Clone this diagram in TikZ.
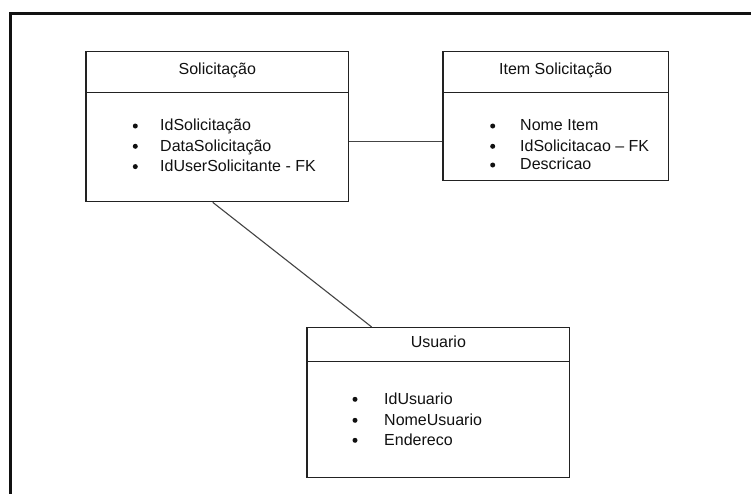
\documentclass[tikz,border=0pt]{standalone}
\usepackage{fontspec}
\setmainfont{Liberation Sans}
\definecolor{boxc}{HTML}{222222}
\definecolor{linec}{HTML}{444444}
\definecolor{framec}{HTML}{111111}
\definecolor{txt}{HTML}{111111}
\begin{document}
\begin{tikzpicture}[x=1pt,y=-1pt,
  entity/.style={draw=boxc,line width=1.3pt,inner sep=0pt,rectangle},
  divider/.style={draw=boxc,line width=1.3pt},
  conn/.style={draw=linec,line width=1.1pt},
  frame/.style={draw=framec,line width=2.8pt},
  title/.style={anchor=base,inner sep=0pt,font=\fontsize{16}{19}\selectfont,text=txt},
  item/.style={anchor=base west,inner sep=0pt,font=\fontsize{16}{19}\selectfont,text=txt},
  dot/.style={circle,fill=txt,inner sep=0pt,minimum size=5pt}]
\useasboundingbox (0,0) rectangle (751,493);
\fill[white] (0,0) rectangle (751,493);
% outer frame (left and top edges only)
\coordinate (fb) at (10.5,494);
\coordinate (fc) at (10.5,13.8);
\coordinate (fr) at (752,13.8);
\draw[frame] (fb) -- (fc) -- (fr);

% entity boxes
\node[entity,minimum width=262.7pt,minimum height=150pt] (sol) at (217.35,126.7) {};
\node[entity,minimum width=225.3pt,minimum height=129pt] (itm) at (555.65,116.2) {};
\node[entity,minimum width=262.7pt,minimum height=150pt] (usu) at (438.35,402.7) {};

% header dividers
\draw[divider] (sol.west |- 0,92.7) -- (sol.east |- 0,92.7);
\draw[divider] (itm.west |- 0,92.7) -- (itm.east |- 0,92.7);
\draw[divider] (usu.west |- 0,361.7) -- (usu.east |- 0,361.7);

% titles
\node[title] (solT) at (217.35,74) {Solicitação};
\node[title] (itmT) at (555.65,74) {Item Solicitação};
\node[title] (usuT) at (438.35,347.7) {Usuario};

% Solicitação attributes
\node[dot] (sd1) at (135.3,126) {};
\node[dot] (sd2) at (135.3,146.3) {};
\node[dot] (sd3) at (135.3,166.6) {};
\node[item] (s1) at (160,130.7) {IdSolicitação};
\node[item] (s2) at (160,151) {DataSolicitação};
\node[item] (s3) at (160,171.3) {IdUserSolicitante - FK};

% Item Solicitação attributes
\node[dot] (id1) at (492.7,126) {};
\node[dot] (id2) at (492.7,146.3) {};
\node[dot] (id3) at (492.7,165) {};
\node[item] (i1) at (520,130.7) {Nome Item};
\node[item] (i2) at (520,151) {IdSolicitacao – FK};
\node[item] (i3) at (520,169.7) {Descricao};

% Usuario attributes
\node[dot] (ud1) at (355,399.3) {};
\node[dot] (ud2) at (355,420.3) {};
\node[dot] (ud3) at (355,440.3) {};
\node[item] (u1) at (384,404) {IdUsuario};
\node[item] (u2) at (384,425) {NomeUsuario};
\node[item] (u3) at (384,445) {Endereco};

% connectors
\draw[conn] ([yshift=-15pt]sol.east) -- ([yshift=-15pt]sol.east -| itm.west);
\draw[conn] ([xshift=-4.6pt]sol.south) -- ([xshift=-66.6pt]usu.north);
\end{tikzpicture}
\end{document}
